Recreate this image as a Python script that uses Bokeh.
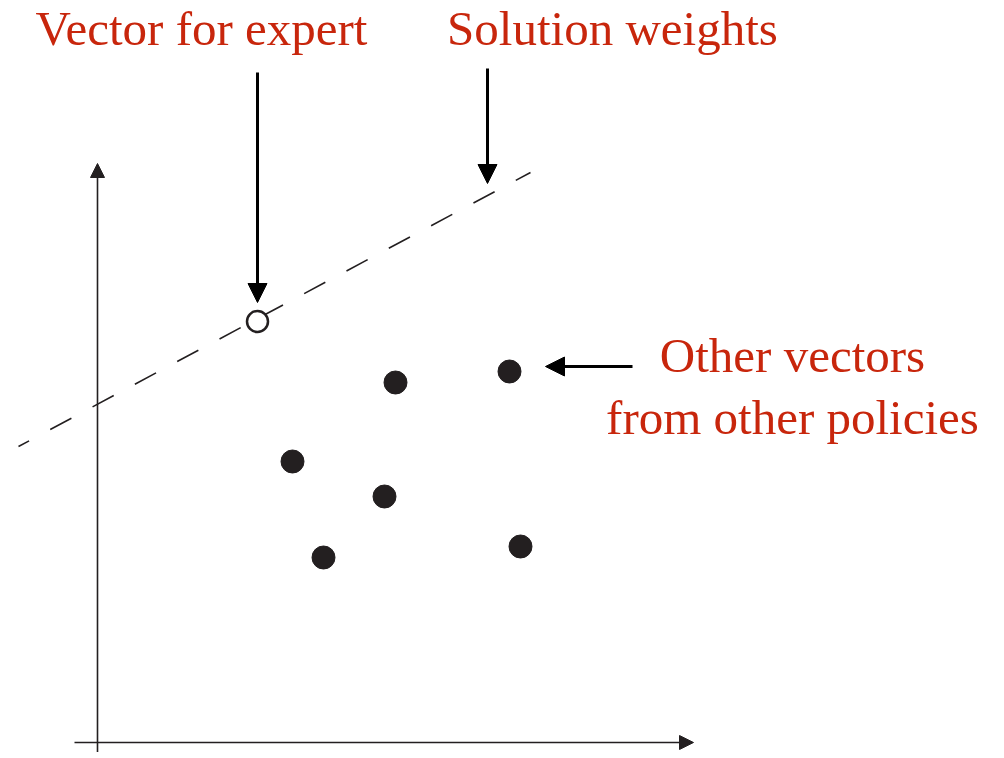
from bokeh.plotting import figure
from bokeh.models import Range1d, Arrow, NormalHead
from bokeh.core.properties import value
from bokeh.embed import file_html
from bokeh.resources import INLINE

# Data (diagram units: origin at the axes' crossing, 1 unit ~ 1 px)
expert_x = [160]
expert_y = [421]
others_x = [298, 412, 195, 287, 226, 423]
others_y = [360, 371, 281, 246, 185, 196]
boundary_x = [-79, 433]
boundary_y = [296, 570]
xaxis_span = [-23, 596]
yaxis_span = [-20, 579]

labels = ["Vector for expert", "Solution weights", "Other vectors", "from other policies"]
label_x = [104, 515, 695, 695]
label_y = [714, 714, 387, 325]

# arrows: (x_start, y_start, x_end, y_end)
arrow_expert = (160, 670, 160, 440)
arrow_weights = (390, 674, 390, 559)
arrow_others = (535, 376, 448, 376)

INK = "#231f20"
RED = "#c8260c"

p = figure(width=988, height=752, output_backend="svg", toolbar_location=None,
           x_range=Range1d(-97, 891), y_range=Range1d(-10, 742),
           min_border=0, min_border_left=0, min_border_right=0,
           min_border_top=0, min_border_bottom=0)
p.axis.visible = False
p.grid.visible = False
p.outline_line_color = None
p.background_fill_color = "white"
p.border_fill_color = "white"

# axes with arrow heads
p.add_layout(Arrow(x_start=xaxis_span[0], y_start=0, x_end=xaxis_span[1], y_end=0,
                   line_color=INK, line_width=1.6,
                   end=NormalHead(size=14, fill_color=INK, line_color=INK, line_width=1)))
p.add_layout(Arrow(x_start=0, y_start=yaxis_span[0], x_end=0, y_end=yaxis_span[1],
                   line_color=INK, line_width=1.6,
                   end=NormalHead(size=14, fill_color=INK, line_color=INK, line_width=1)))

# dashed boundary line
p.line(boundary_x, boundary_y, line_color=INK, line_width=1.6,
       line_dash="24 24", line_dash_offset=12)

# other vectors (filled)
p.scatter(others_x, others_y, size=23, marker="circle",
          fill_color=INK, line_color=INK, line_width=1)

# expert vector (open)
p.scatter(expert_x, expert_y, size=21, marker="circle",
          fill_color="white", line_color=INK, line_width=2.5)

# pointer arrows
for (xs, ys, xe, ye) in (arrow_expert, arrow_weights, arrow_others):
    p.add_layout(Arrow(x_start=xs, y_start=ys, x_end=xe, y_end=ye,
                       line_color="black", line_width=3,
                       end=NormalHead(size=19, fill_color="black", line_color="black", line_width=1)))

# labels
p.text(x=label_x, y=label_y, text=labels, text_color=RED,
       text_font=value("Liberation Serif"), text_font_size="49px",
       text_align="center", text_baseline="alphabetic")

open("out.html", "w").write(file_html(p, INLINE))
